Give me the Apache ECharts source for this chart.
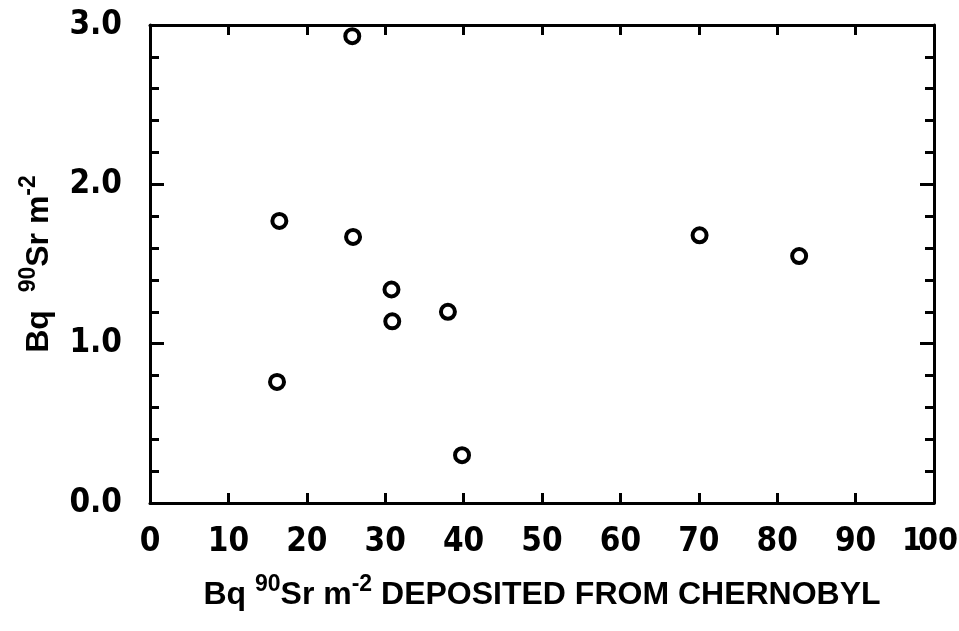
<!DOCTYPE html>
<html>
<head>
<meta charset="utf-8">
<script src="https://cdn.jsdelivr.net/npm/echarts@6/dist/echarts.min.js"></script>
<style>html,body{margin:0;padding:0;background:#fff;}#c{width:959px;height:631px;}</style>
</head>
<body>
<div id="c"></div>
<script>
var xValues = [16.5, 25.8, 25.9, 30.8, 30.9, 38.0, 16.2, 39.8, 70.1, 82.8];
var yValues = [1.77, 2.93, 1.67, 1.34, 1.14, 1.20, 0.76, 0.30, 1.68, 1.55];
var xTickLabels = ['0','10','20','30','40','50','60','70','80','90','100'];
var yTickLabels = {0:'0.0',1:'1.0',2:'2.0',3:'3.0'};

var points = xValues.map(function(x,i){return [x, yValues[i]];});
var NARROW = 'DejaVu Sans Condensed';
var FONT = '"Liberation Sans", "DejaVu Sans", sans-serif';
var rich = {
  n: {fontSize: 32, fontWeight: 'bold', fontFamily: FONT, color: '#000'},
  s: {fontSize: 23, fontWeight: 'bold', fontFamily: FONT, color: '#000', verticalAlign: 'top', padding: [0,0,22,0]}
};
var chart = echarts.init(document.getElementById('c'), null, {renderer: 'canvas'});
var lineStyle = {color: '#000', width: 3};
chart.setOption({
  animation: false,
  backgroundColor: '#fff',
  grid: {left: 150, right: 25, top: 25, bottom: 128, containLabel: false, outerBoundsMode: 'none'},
  xAxis: [{
    type: 'value', min: 0, max: 100, interval: 10,
    axisLine: {show: true, onZero: false, lineStyle: lineStyle},
    axisTick: {show: true, inside: true, length: 10, lineStyle: {color: '#000', width: 3}},
    splitLine: {show: false},
    axisLabel: {margin: 23, fontSize: 33, fontWeight: 'bold', fontFamily: NARROW, color: '#000',
      rich: {
        a: {fontSize: 32, fontWeight: 'bold', fontFamily: NARROW, color: '#000', width: 16, align: 'left'},
        b: {fontSize: 32, fontWeight: 'bold', fontFamily: NARROW, color: '#000', padding: [0, 8, 0, 0]}
      },
      formatter: function(v){ var t = xTickLabels[Math.round(v/10)]; return t.length > 2 ? '{a|' + t.charAt(0) + '}{b|' + t.slice(1) + '}' : t; }},
    name: '{n|Bq }{s|90}{n|Sr m}{s|-2}{n| DEPOSITED FROM CHERNOBYL}',
    nameLocation: 'middle', nameGap: 70,
    nameTextStyle: {rich: rich}
  }, {
    type: 'value', min: 0, max: 100, interval: 10, position: 'top',
    axisLine: {show: true, onZero: false, lineStyle: lineStyle},
    axisTick: {show: true, inside: true, length: 10, lineStyle: {color: '#000', width: 3}},
    splitLine: {show: false}, axisLabel: {show: false}
  }],
  yAxis: [{
    type: 'value', min: 0, max: 3, interval: 1,
    axisLine: {show: true, onZero: false, lineStyle: lineStyle},
    axisTick: {show: true, inside: true, length: 14, lineStyle: {color: '#000', width: 3}},
    minorTick: {show: true, splitNumber: 5, length: 9, lineStyle: {color: '#000', width: 3}},
    splitLine: {show: false}, minorSplitLine: {show: false},
    axisLabel: {margin: 28, fontSize: 33, fontWeight: 'bold', fontFamily: NARROW, color: '#000',
      formatter: function(v){ return yTickLabels[Math.round(v)]; }},
    name: '{n|Bq  }{s|90}{n|Sr m}{s|-2}',
    nameLocation: 'middle', nameGap: 88, nameRotate: 90,
    nameTextStyle: {rich: rich}
  }, {
    type: 'value', min: 0, max: 3, interval: 1, position: 'right',
    axisLine: {show: true, onZero: false, lineStyle: lineStyle},
    axisTick: {show: true, inside: true, length: 14, lineStyle: {color: '#000', width: 3}},
    minorTick: {show: true, splitNumber: 5, length: 9, lineStyle: {color: '#000', width: 3}},
    splitLine: {show: false}, minorSplitLine: {show: false},
    axisLabel: {show: false}
  }],
  series: [{
    type: 'scatter', data: points, symbol: 'circle', symbolSize: 14,
    itemStyle: {color: '#fff', borderColor: '#000', borderWidth: 4, opacity: 1}
  }]
});
</script>
</body>
</html>
